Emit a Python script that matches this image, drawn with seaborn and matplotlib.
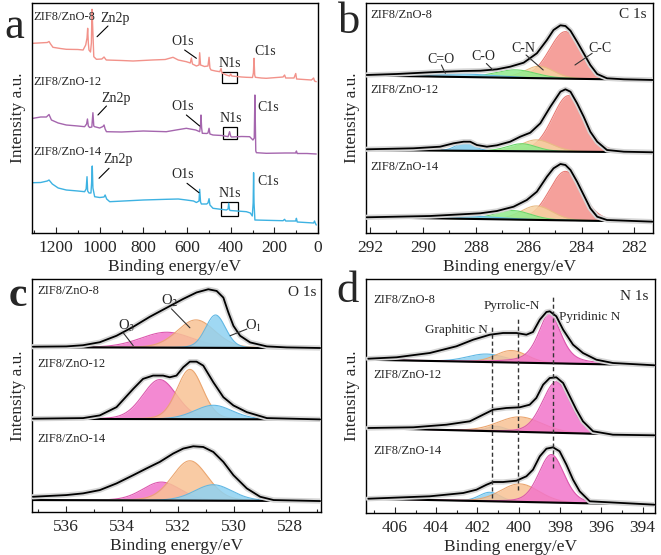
import numpy as np
import pandas as pd
import matplotlib
matplotlib.use("Agg")
import matplotlib.pyplot as plt
from matplotlib.ticker import MultipleLocator
import seaborn as sns

sns.set_theme(style="ticks")
plt.rcParams['font.family'] = ['Liberation Serif', 'DejaVu Serif']
plt.rcParams['mathtext.fontset'] = 'stix'

samples = ["ZIF8/ZnO-8", "ZIF8/ZnO-12", "ZIF8/ZnO-14"]

# ---------------- panel a: survey spectra (BE, intensity) ----------------
survey_be_8 = [1305, 1240, 1232, 1225, 1214, 1180, 1153, 1100, 1076, 1064, 1058, 1055, 1052, 1049, 1042, 1038, 1035, 1031, 1027, 1015, 990, 980, 970, 900, 847, 760, 700, 664, 640, 603, 585, 580, 575, 557, 545, 542, 538, 520, 504, 499, 495, 490, 470, 450, 444, 440, 420, 405, 400, 395, 350, 328, 300, 296, 293, 290, 287, 260, 237, 160, 153, 148, 110, 102, 98, 30, 20, 16, 8]
survey_i_8 = [189.7, 190.5, 191.5, 189, 185.7, 184.5, 183.7, 183.5, 183, 188, 195, 204.7, 190, 183, 181, 190, 223.7, 200, 176.3, 173.7, 174, 176, 173, 172.5, 172, 173, 173.5, 175.7, 173, 171.3, 170, 175, 169, 167, 168, 180.3, 168, 166.5, 167, 175.7, 165, 163, 162, 161.3, 164.5, 160, 158, 157, 159, 157, 156, 155.7, 155.5, 160, 174.7, 158, 155.7, 155, 154.7, 156, 158, 155, 155, 159.5, 154, 153, 155, 152, 151.3]
survey_be_12 = [1305, 1270, 1244, 1232, 1221, 1190, 1153, 1100, 1069, 1060, 1056, 1052, 1046, 1036, 1031, 1027, 1023, 1000, 985, 980, 975, 969, 900, 800, 695, 650, 603, 560, 542, 538, 536, 533, 530, 510, 504, 499, 495, 481, 440, 412, 405, 400, 397, 350, 313, 298, 292, 289, 287, 285, 282, 237, 150, 102, 99, 95, 50, 8]
survey_i_12 = [114.7, 116, 116, 118.5, 113, 110, 108, 107, 106.3, 109, 114, 107, 105.5, 106, 120.3, 107, 106.3, 105, 106.5, 108, 104, 101.3, 101, 102, 101.3, 103, 104.7, 103, 101.3, 108, 118, 105, 99.7, 99.5, 100, 104.7, 99, 98, 97.5, 96.3, 101.3, 97, 96, 96.5, 96.3, 93, 95, 138, 110, 82, 80.3, 79.7, 80, 80, 82, 79.5, 79.5, 79]
survey_be_14 = [1305, 1270, 1240, 1232, 1217, 1190, 1153, 1100, 1069, 1062, 1058, 1055, 1049, 1040, 1037, 1034, 1031, 1023, 1000, 980, 975, 968, 954, 800, 695, 640, 603, 570, 557, 545, 542, 538, 534, 510, 504, 499, 495, 481, 420, 412, 409, 405, 402, 340, 328, 310, 301, 297, 295, 293, 289, 200, 160, 153, 148, 102, 99, 95, 20, 16, 12, 8]
survey_i_14 = [50.3, 50.5, 52, 53, 49, 45, 43, 42, 41.3, 44, 56.3, 42, 40, 40, 50, 67, 45, 36.3, 35.5, 36, 38, 34, 31.3, 33, 33.7, 34, 33, 32, 30.5, 32, 43.7, 31, 29, 29, 30, 34.3, 28, 24.7, 23, 24, 29.7, 23, 22.5, 21.5, 21.3, 20, 17, 30, 60.3, 30, 13, 12.5, 12.3, 13.7, 12, 12, 14.7, 11, 10, 12, 9.7, 8]
survey_colors = ["#F2928A", "#A566AE", "#3DB2E2"]

# ---------------- panel b: C 1s ----------------
c1s_names = ["C-C", "C-N", "C-O", "C=O"]
c1s_center = {"8": [284.61, 285.6, 286.5, 288.5], "12": [284.49, 285.7, 286.26, 288.4], "14": [284.61, 285.7, 286.6, 288.5]}
c1s_height = {"8": [47, 12, 8, 3], "12": [56, 11.5, 7.5, 8.5], "14": [49, 14, 9, 3]}
c1s_fwhm = {"8": [1.45, 1.3, 1.8, 3.0], "12": [1.45, 1.4, 1.3, 0.8], "14": [1.45, 1.4, 1.6, 3.0]}
c1s_base = {"8": [157.5, 153.0], "12": [83.0, 80.7], "14": [15.7, 11.3]}
c1s_env_be = {
    "8": [292.13, 290.99, 289.73, 288.46, 287.83, 287.20, 286.70, 286.19, 285.69, 285.31, 285.06, 284.80, 284.61, 284.42, 284.17, 283.92, 283.67, 283.41, 283.04, 282.40, 281.29],
    "12": [292.13, 290.36, 289.35, 288.84, 288.46, 288.21, 287.96, 287.58, 287.20, 286.70, 286.32, 285.94, 285.56, 285.18, 284.80, 284.61, 284.42, 284.17, 283.92, 283.67, 283.41, 283.04, 282.40, 281.29],
    "14": [292.13, 289.73, 287.83, 287.20, 286.57, 286.07, 285.69, 285.31, 285.06, 284.80, 284.61, 284.42, 284.17, 283.92, 283.67, 283.41, 283.04, 281.29]}
c1s_env_i = {
    "8": [158.0, 159.0, 160.7, 162.0, 162.3, 163.7, 166.3, 170.3, 179.7, 193.0, 203.0, 207.7, 207.0, 202.3, 191.3, 179.7, 168.0, 159.0, 154.7, 153.7, 153.0],
    "12": [83.7, 84.7, 86.3, 89.7, 91.3, 91.3, 88.0, 86.3, 87.7, 91.3, 96.3, 100.3, 109.7, 126.3, 141.3, 143.7, 141.3, 129.7, 116.3, 101.3, 91.3, 83.0, 81.3, 80.7],
    "14": [15.7, 17.0, 19.7, 22.0, 26.3, 33.0, 41.3, 56.3, 64.7, 69.0, 68.0, 63.0, 51.3, 38.0, 24.7, 16.3, 13.0, 11.3]}
c1s_fill = ["#F4908A", "#F7D3A2", "#90EC8C", "#80CCEC"]
c1s_edge = ["#E87A74", "#E8BC84", "#6CD86C", "#5FBCE6"]

# ---------------- panel c: O 1s ----------------
o1s_names = ["O3", "O2", "O1"]
o1s_center = {"8": [532.4, 531.35, 530.65], "12": [532.65, 531.57, 530.73], "14": [532.59, 531.57, 530.73]}
o1s_height = {"8": [15.5, 28, 33], "12": [39.7, 50, 14], "14": [18.5, 40, 16]}
o1s_fwhm = {"8": [2.2, 1.6, 0.85], "12": [1.45, 1.1, 1.6], "14": [1.6, 1.5, 1.6]}
o1s_base = {"8": [165.5, 164.5], "12": [93.5, 93.0], "14": [12.0, 11.0]}
o1s_env_be = {
    "8": [537.20, 536.00, 535.40, 534.80, 534.20, 533.60, 533.01, 532.41, 531.81, 531.33, 530.91, 530.61, 530.37, 530.19, 530.01, 529.77, 529.41, 528.81, 528.10, 526.90],
    "12": [537.20, 535.40, 534.80, 534.20, 533.60, 533.25, 532.89, 532.53, 532.29, 532.05, 531.81, 531.57, 531.33, 531.09, 530.73, 530.37, 530.01, 529.53, 528.81, 526.90],
    "14": [537.20, 536.00, 535.40, 534.80, 534.20, 533.60, 533.13, 532.65, 532.17, 531.81, 531.45, 531.09, 530.73, 530.37, 530.01, 529.53, 529.05, 528.57, 526.90]}
o1s_env_i = {
    "8": [166.0, 166.3, 167.5, 170.5, 177.0, 186.0, 196.0, 205.0, 214.0, 220.5, 223.7, 222.0, 215.3, 200.3, 187.0, 177.0, 170.3, 166.3, 165.3, 164.7],
    "12": [93.7, 94.3, 97.0, 105.3, 123.7, 133.7, 137.0, 137.0, 135.3, 137.0, 145.3, 151.0, 151.0, 147.0, 130.3, 115.3, 107.0, 100.3, 94.3, 93.0],
    "14": [15.3, 17.0, 18.7, 22.0, 28.7, 37.0, 43.7, 50.3, 58.7, 63.7, 66.0, 65.3, 60.3, 50.3, 37.0, 23.7, 15.3, 12.0, 11.0]}
o1s_fill = ["#F274CA", "#F8C294", "#8ED2F2"]
o1s_edge = ["#DC58AE", "#EBA670", "#62B8E4"]

# ---------------- panel d: N 1s ----------------
n1s_names = ["Graphitic N", "Pyrrolic-N", "Pyridinic N"]
n1s_center = {"8": [401.56, 400.35, 398.5], "12": [401.08, 399.95, 398.18], "14": [401.4, 399.95, 398.42]}
n1s_height = {"8": [8, 12, 50], "12": [5, 15, 51], "14": [9, 18, 48]}
n1s_fwhm = {"8": [2.2, 1.8, 1.3], "12": [1.0, 2.5, 1.6], "14": [1.2, 2.2, 1.45]}
n1s_mix = {"8": [0.1, 0.1, 0.55], "12": [0.1, 0.1, 0.2], "14": [0.1, 0.1, 0.25]}
n1s_base = {"8": [153.3, 147.7], "12": [85.0, 77.7], "14": [14.3, 8.3]}
n1s_env_be = {
    "8": [407.29, 405.92, 404.31, 403.02, 402.21, 401.40, 400.76, 400.11, 399.63, 399.31, 398.98, 398.66, 398.50, 398.18, 397.85, 397.37, 396.89, 396.24, 395.44, 393.42],
    "12": [407.29, 405.11, 403.50, 402.37, 401.73, 401.24, 400.60, 399.95, 399.47, 399.15, 398.82, 398.50, 398.18, 397.85, 397.53, 397.21, 396.89, 396.40, 395.44, 393.42],
    "14": [407.29, 404.31, 402.69, 402.05, 401.56, 401.24, 400.76, 400.11, 399.63, 399.31, 398.98, 398.66, 398.34, 398.02, 397.69, 397.37, 397.05, 396.56, 393.42]}
n1s_env_i = {
    "8": [154.3, 155.7, 160.0, 166.7, 173.3, 178.3, 180.0, 180.0, 178.3, 181.0, 193.3, 201.0, 201.7, 196.7, 183.3, 168.3, 160.0, 153.3, 150.0, 147.7],
    "12": [85.0, 85.7, 88.3, 91.7, 98.3, 103.3, 105.0, 105.7, 108.3, 115.0, 128.3, 135.0, 135.7, 130.0, 116.7, 103.3, 91.7, 81.7, 78.3, 77.7],
    "14": [14.3, 16.7, 20.0, 23.3, 28.3, 31.0, 31.0, 32.3, 36.7, 43.3, 56.7, 64.3, 65.7, 61.7, 48.3, 33.3, 21.7, 11.7, 8.3]}
n1s_fill = ["#8ED2F2", "#F8C294", "#F274CA"]
n1s_edge = ["#62B8E4", "#EBA670", "#DC58AE"]
n1s_lines_be = [401.29, 400.06, 398.34]
n1s_lines_top = [188, 195, 215.7]
n1s_lines_bot = [15, 23, 45]

keys = ["8", "12", "14"]
W, H = 661, 555
fig = plt.figure(figsize=(W / 100, H / 100), dpi=100)

def add_ax(l, t, r, b):
    return fig.add_axes([l / W, (H - b) / H, (r - l) / W, (b - t) / H])

ax_a = add_ax(32, 3, 318, 233)
ax_b = add_ax(366, 3, 653, 233)
ax_c = add_ax(32, 279, 321, 512)
ax_d = add_ax(366, 279, 655, 513)

TXT = 9
def style(ax, xlim, ylim, major, minor):
    ax.set_xlim(*xlim)
    ax.set_ylim(*ylim)
    ax.xaxis.set_major_locator(MultipleLocator(major))
    ax.xaxis.set_minor_locator(MultipleLocator(minor))
    ax.tick_params(axis='x', which='both', direction='in', top=False, labelsize=12.5, pad=5, width=0.8)
    ax.tick_params(axis='x', which='major', length=4)
    ax.tick_params(axis='x', which='minor', length=2)
    ax.set_yticks([])
    for s in ax.spines.values():
        s.set_linewidth(1.0)
        s.set_color('black')
        s.set_visible(True)
    ax.set_xlabel("Binding energy/eV", fontsize=12.5, labelpad=2)
    ax.set_ylabel("Intensity a.u.", fontsize=12.5, labelpad=4)

def pv(x, c, h, w, eta):
    g = np.exp(-4 * np.log(2) * (x - c) ** 2 / w ** 2)
    l = 1.0 / (1 + 4 * (x - c) ** 2 / w ** 2)
    return h * ((1 - eta) * g + eta * l)

# ---- panel a ----
style(ax_a, (1310, 0), (0, 230), 200, 100)
for be, it, col in [(survey_be_8, survey_i_8, survey_colors[0]),
                    (survey_be_12, survey_i_12, survey_colors[1]),
                    (survey_be_14, survey_i_14, survey_colors[2])]:
    sns.lineplot(x=be, y=it, ax=ax_a, color=col, lw=1.0, estimator=None)
ax_a.set_xlim(1310, 0)
for y, s in zip([216, 151.3, 81.3], samples):
    ax_a.text(1305, y, s, fontsize=TXT, va='center', ha='left')
a_ann = [
    ("Zn2p", 928, 214.7, (962, 207, 1012, 196.3)),
    ("O1s", 618, 191.3, (611, 183, 557, 174.7)),
    ("C1s", 244, 181.3, None),
    ("Zn2p", 924, 134.7, (969, 127, 1008, 118)),
    ("O1s", 618, 126.3, (603, 118, 542, 107)),
    ("C1s", 229, 125.7, None),
    ("Zn2p", 916, 73, (957, 64.7, 1003, 54.7)),
    ("O1s", 618, 58, (600, 49.7, 545, 40.3)),
    ("C1s", 229, 51.3, None),
]
for t, x, y, ln in a_ann:
    ax_a.text(x, y, t, fontsize=10, ha='center', va='center')
    if ln:
        ax_a.plot([ln[0], ln[2]], [ln[1], ln[3]], color='black', lw=0.8)
for x, y, box in [(405, 169.7, (438, 371, 160.7, 149.7)), (400, 114.7, (435, 371, 106.3, 93.7)), (405, 39.7, (446, 365, 31.3, 17))]:
    ax_a.text(x, y, "N1s", fontsize=10, ha='center', va='center')
    ax_a.add_patch(plt.Rectangle((box[1], box[3]), box[0] - box[1], box[2] - box[3], fill=False, ec='black', lw=0.9))

# ---- generic fitted panel ----
def fit_panel(ax, xlim, centers, heights, fwhms, bases, env_be, env_i, fills, edges, mix=None):
    x = np.linspace(xlim[0], xlim[1], 500)
    for k in keys:
        b0, b1 = bases[k]
        base = b0 + (b1 - b0) * (x - xlim[0]) / (xlim[1] - xlim[0])
        for j in range(len(centers[k])):
            eta = mix[k][j] if mix else 0.15
            y = base + pv(x, centers[k][j], heights[k][j], fwhms[k][j], eta)
            ax.fill_between(x, base, y, color=fills[j], alpha=0.85, lw=0, zorder=2 + j)
            ax.plot(x, y, color=edges[j], lw=0.8, zorder=2 + j)
        ax.plot(x, base, color='black', lw=1.5, zorder=8)
        df = pd.DataFrame({"be": env_be[k], "i": env_i[k]})
        sns.lineplot(data=df, x="be", y="i", ax=ax, color='#d6d6d6', lw=3.8, sort=False, estimator=None, zorder=9)
        sns.lineplot(data=df, x="be", y="i", ax=ax, color='black', lw=1.3, sort=False, estimator=None, zorder=10)
    ax.set_xlabel("Binding energy/eV", fontsize=12.5, labelpad=2)
    ax.set_ylabel("Intensity a.u.", fontsize=12.5, labelpad=4)

# ---- panel b ----
style(ax_b, (292.15, 281.3), (0, 230), 2, 1)
fit_panel(ax_b, (292.15, 281.3), c1s_center, c1s_height, c1s_fwhm, c1s_base, c1s_env_be, c1s_env_i, c1s_fill, c1s_edge)
for y, s in zip([218, 143, 66.3], samples):
    ax_b.text(292.0, y, s, fontsize=TXT, va='center', ha='left')
ax_b.text(281.55, 218, "C 1s", fontsize=11, ha='right', va='center')
for t, x, y, ln in [("C=O", 289.3, 173.7, (289.3, 168, 289.15, 159.7)),
                    ("C-O", 287.7, 176.3, (287.6, 169.5, 287.35, 163)),
                    ("C-N", 286.2, 184.7, (286.1, 178, 285.45, 163)),
                    ("C-C", 283.3, 184.7, (283.6, 179.7, 284.25, 168))]:
    ax_b.text(x, y, t, fontsize=10, ha='center', va='center', zorder=12)
    ax_b.plot([ln[0], ln[2]], [ln[1], ln[3]], color='#333333', lw=0.8, zorder=12)

# ---- panel c ----
style(ax_c, (537.23, 526.87), (0, 234), 2, 1)
fit_panel(ax_c, (537.23, 526.87), o1s_center, o1s_height, o1s_fwhm, o1s_base, o1s_env_be, o1s_env_i, o1s_fill, o1s_edge)
for y, s in zip([222, 148.7, 73.7], samples):
    ax_c.text(537.05, y, s, fontsize=TXT, va='center', ha='left')
ax_c.text(527.05, 220.3, "O 1s", fontsize=11, ha='right', va='center')
for t, x, y, ln in [(r"O$_2$", 532.29, 212, (532.23, 204, 531.57, 185)),
                    (r"O$_3$", 533.84, 187, (533.96, 180, 533.6, 167)),
                    (r"O$_1$", 529.3, 187, (529.53, 183.7, 530.13, 177))]:
    ax_c.text(x, y, t, fontsize=10.5, ha='center', va='center', zorder=12)
    ax_c.plot([ln[0], ln[2]], [ln[1], ln[3]], color='#333333', lw=0.8, zorder=12)

# ---- panel d ----
style(ax_d, (407.4, 393.4), (0, 234), 2, 1)
fit_panel(ax_d, (407.4, 393.4), n1s_center, n1s_height, n1s_fwhm, n1s_base, n1s_env_be, n1s_env_i, n1s_fill, n1s_edge, mix=n1s_mix)
for x, t, b in zip(n1s_lines_be, n1s_lines_top, n1s_lines_bot):
    ax_d.plot([x, x], [b, t], color='#333333', lw=1.0, ls=(0, (3, 2)), zorder=11)
for y, s in zip([213.3, 138.3, 61.7], samples):
    ax_d.text(407.05, y, s, fontsize=TXT, va='center', ha='left')
ax_d.text(393.7, 216.7, "N 1s", fontsize=11, ha='right', va='center')
ax_d.text(400.35, 206.7, "Pyrrolic-N", fontsize=9.5, ha='center', va='center')
ax_d.text(396.56, 195.7, "Pyridinic N", fontsize=9.5, ha='center', va='center')
ax_d.text(403.02, 183.3, "Graphitic N", fontsize=9.5, ha='center', va='center')

# panel letters
fig.text(14 / W, 1 - 27 / H, "a", fontsize=32, ha='center', va='center')
fig.text(349 / W, 1 - 22 / H, "b", fontsize=32, ha='center', va='center')
fig.text(18 / W, 1 - 296 / H, "c", fontsize=30, ha='center', va='center', fontweight='bold')
fig.text(348 / W, 1 - 291 / H, "d", fontsize=32, ha='center', va='center')

fig.savefig("out.png", dpi=100)
